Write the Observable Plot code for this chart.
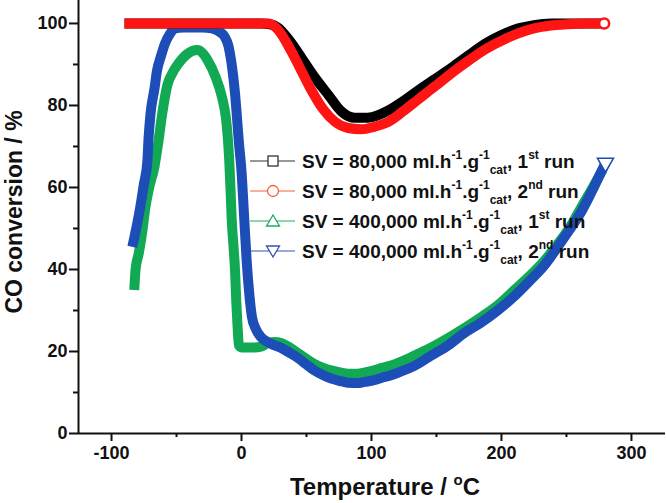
<!DOCTYPE html>
<html>
<head>
<meta charset="utf-8">
<script src="https://cdn.jsdelivr.net/npm/d3@7"></script>
<script src="https://cdn.jsdelivr.net/npm/@observablehq/plot@0.6"></script>
<style>
  html, body { margin: 0; padding: 0; background: #fff; }
  #chart { width: 666px; height: 503px; }
</style>
</head>
<body>
<div id="chart"></div>
<script>
// ---------- data ----------
const xTicks = [-100, 0, 100, 200, 300];
const xMinorTicks = [-50, 50, 150, 250];
const yTicks = [0, 20, 40, 60, 80, 100];
const yMinorTicks = [10, 30, 50, 70, 90];

// SV = 80,000, 1st run (black squares)
const black1T = [-90, -30, 0, 15, 22, 28, 37, 46, 56, 67, 77, 87, 97, 105, 113, 124, 136, 149, 162, 175, 187, 200, 213, 225, 238, 250, 265, 279];
const black1C = [100, 100, 100, 100, 99.8, 99, 95.8, 91.7, 87, 82.5, 78.5, 77, 77, 77.6, 78.8, 81, 83.7, 86.5, 89.3, 92.3, 95, 97.2, 98.8, 99.6, 100, 100, 100, 100];

// SV = 80,000, 2nd run (red circles)
const red2T = [-90, -60, -30, 0, 15, 21, 28, 38, 46, 54, 63, 72, 82, 92, 102, 113, 124, 136, 149, 162, 175, 187, 200, 213, 225, 238, 250, 265, 279];
const red2C = [100, 100, 100, 100, 100, 100, 98.5, 93.4, 88.5, 83.6, 79, 76, 74.5, 74.2, 74.8, 76, 78.5, 81.5, 84.7, 88, 91, 93.6, 95.8, 97.6, 98.8, 99.5, 99.8, 100, 100];

// SV = 400,000, 1st run (green triangles)
const green1T = [-82.5, -81.5, -79, -76, -74, -71, -67, -64, -61, -57, -53, -49, -42, -34, -30, -26, -20, -15, -12, -10.5, -9.5, -8.5, -7.5, -6, -5, -4, -3, -2, 0, 5, 10, 15, 20, 25, 31, 38, 44, 50, 56, 63, 69, 76, 82, 89, 95, 102, 108, 115, 121, 133, 146, 159, 172, 185, 198, 210, 223, 234, 244, 253, 262, 272, 278];
const green1C = [35, 40, 44, 50, 55, 60, 65, 71, 78, 85, 88, 90, 92.5, 93.5, 92.8, 91, 87, 82, 77, 72, 67, 60, 52, 45, 40, 32, 26, 21.5, 21, 21, 21, 21.2, 22, 22.3, 22, 20.8, 19.5, 18.2, 17, 16, 15.4, 14.9, 14.6, 14.6, 14.9, 15.4, 16, 16.6, 17.3, 19, 21, 23.3, 25.8, 28.5, 31.5, 35, 38.8, 42.5, 46.5, 50.5, 55.5, 61, 64.5];

// SV = 400,000, 2nd run (blue inverted triangles)
const blue2T = [-84, -81, -78, -75, -72.5, -71.5, -70, -67, -65, -62, -59, -55, -51, -45, -38, -30, -23, -17, -13, -10, -8, -5, -2, 0, 2, 4, 6, 8, 11, 15, 22, 31, 38, 44, 50, 56, 63, 69, 76, 82, 89, 95, 102, 108, 115, 121, 133, 146, 159, 171, 184, 197, 210, 222, 233, 243, 252, 262, 271, 280];
const blue2C = [45.5, 50, 55, 61, 66, 72, 78, 84, 88.5, 92, 95, 97.5, 98.8, 99, 99, 99, 98.8, 98, 96.8, 94.5, 91, 83, 71, 64, 53, 42, 34, 28.5, 25.5, 23.5, 22, 20.8, 19.5, 18.3, 16.8, 15.4, 14.2, 13.4, 12.8, 12.4, 12.3, 12.6, 13, 13.6, 14.2, 14.9, 16.5, 19, 21.5, 24.4, 27, 30, 33.5, 37.3, 41, 45.4, 49.5, 54.4, 60, 66];

const seriesLabels = [
  ["SV = 80,000 ml.h", "-1", ".g", "-1", "cat", ", 1", "st", " run"],
  ["SV = 80,000 ml.h", "-1", ".g", "-1", "cat", ", 2", "nd", " run"],
  ["SV = 400,000 ml.h", "-1", ".g", "-1", "cat", ", 1", "st", " run"],
  ["SV = 400,000 ml.h", "-1", ".g", "-1", "cat", ", 2", "nd", " run"]
];
const xLabel = ["Temperature / ", "o", "C"];
const yLabel = "CO conversion / %";

// ---------- styling ----------
const colors = { black: "#000000", red: "#ff1414", green: "#12a955", blue: "#1d4db6" };
const legendColors = ["#333333", "#f2603c", "#20aa60", "#3a4fb0"];

const toRows = (T, C) => T.map((t, i) => ({ t, c: C[i] }));
const black1 = toRows(black1T, black1C);
const red2 = toRows(red2T, red2C);
const green1 = toRows(green1T, green1C);
const blue2 = toRows(blue2T, blue2C);

const xDomain = [-125.4, 326.2];
const yDomain = [0, 105.6];

const band = (data, color) => Plot.line(data, {
  x: "t", y: "c", stroke: color, strokeWidth: 10,
  curve: "monotone-x", strokeLinejoin: "round", strokeLinecap: "butt"
});

const plot = Plot.plot({
  width: 666,
  height: 503,
  marginLeft: 78,
  marginRight: 1,
  marginTop: 0,
  marginBottom: 70,
  style: { fontFamily: "'Liberation Sans', Arial, sans-serif", fontSize: "18px", fontWeight: "bold", color: "#111", background: "#fff" },
  x: { domain: xDomain },
  y: { domain: yDomain },
  marks: [
    band(green1, colors.green),
    band(blue2, colors.blue),
    Plot.dot(blue2, Plot.selectLast({ x: "t", y: "c", symbol: "triangle", rotate: 180, r: 6, fill: "white", stroke: colors.blue, strokeWidth: 1.5 })),
    band(black1, colors.black),
    band(red2, colors.red),
    Plot.dot(red2, Plot.selectLast({ x: "t", y: "c", r: 5, fill: "white", stroke: colors.red, strokeWidth: 2.5 })),
    Plot.ruleY([0], { stroke: "#111", strokeWidth: 2 }),
    Plot.ruleX([xDomain[0]], { stroke: "#111", strokeWidth: 2 }),
    Plot.axisX({ ticks: xTicks, tickSize: 8, tickPadding: 5, tickFormat: d => String(d), label: null, strokeWidth: 2, stroke: "#111" }),
    Plot.axisX({ ticks: xMinorTicks, tickSize: 4, text: null, label: null, strokeWidth: 2, stroke: "#111" }),
    Plot.axisY({ ticks: yTicks, tickSize: 9, tickPadding: 2, tickFormat: d => String(d), label: null, strokeWidth: 2, stroke: "#111" }),
    Plot.axisY({ ticks: yMinorTicks, tickSize: 5, text: null, label: null, strokeWidth: 2, stroke: "#111" })
  ]
});

document.getElementById("chart").appendChild(plot);

// ---------- titles and legend ----------
const svg = d3.select(plot);
const font = "'Liberation Sans', Arial, sans-serif";

const xt = svg.append("text")
  .attr("x", 385).attr("y", 495)
  .attr("text-anchor", "middle")
  .attr("font-family", font).attr("font-weight", "bold").attr("font-size", 24).attr("fill", "#111");
xt.append("tspan").text(xLabel[0]);
xt.append("tspan").attr("font-size", 15).attr("dy", -10).text(xLabel[1]);
xt.append("tspan").attr("dy", 10).text(xLabel[2]);

svg.append("text")
  .attr("transform", "translate(22,212) rotate(-90)")
  .attr("text-anchor", "middle")
  .attr("font-family", font).attr("font-weight", "bold").attr("font-size", 23).attr("fill", "#111")
  .text(yLabel);

const legend = svg.append("g").attr("font-family", font).attr("font-weight", "bold").attr("fill", "#111");
const rowBase = [168, 198, 228, 258];
const syms = ["square", "circle", "triangle", "triangle-down"];
seriesLabels.forEach((parts, i) => {
  const yb = rowBase[i];
  const yc = yb - 7;
  const col = legendColors[i];
  legend.append("line").attr("x1", 250).attr("x2", 295).attr("y1", yc).attr("y2", yc)
    .attr("stroke", col).attr("stroke-width", 1.2);
  const s = syms[i];
  if (s === "square") {
    legend.append("rect").attr("x", 268).attr("y", yc - 5).attr("width", 10).attr("height", 10)
      .attr("fill", "white").attr("stroke", col).attr("stroke-width", 1.3);
  } else if (s === "circle") {
    legend.append("circle").attr("cx", 273).attr("cy", yc).attr("r", 5.5)
      .attr("fill", "white").attr("stroke", col).attr("stroke-width", 1.3);
  } else if (s === "triangle") {
    legend.append("path").attr("d", `M273,${yc - 6}L279.5,${yc + 5}L266.5,${yc + 5}Z`)
      .attr("fill", "white").attr("stroke", col).attr("stroke-width", 1.3);
  } else {
    legend.append("path").attr("d", `M273,${yc + 6}L279.5,${yc - 5}L266.5,${yc - 5}Z`)
      .attr("fill", "white").attr("stroke", col).attr("stroke-width", 1.3);
  }
  const t = legend.append("text").attr("x", 302).attr("y", yb).attr("font-size", 19).attr("text-anchor", "start");
  t.append("tspan").text(parts[0]);
  t.append("tspan").attr("font-size", 12).attr("dy", -9).text(parts[1]);
  t.append("tspan").attr("dy", 9).text(parts[2]);
  t.append("tspan").attr("font-size", 12).attr("dy", -9).text(parts[3]);
  t.append("tspan").attr("font-size", 12).attr("dy", 15).text(parts[4]);
  t.append("tspan").attr("dy", -6).text(parts[5]);
  t.append("tspan").attr("font-size", 12).attr("dy", -9).text(parts[6]);
  t.append("tspan").attr("dy", 9).text(parts[7]);
});
</script>
</body>
</html>
